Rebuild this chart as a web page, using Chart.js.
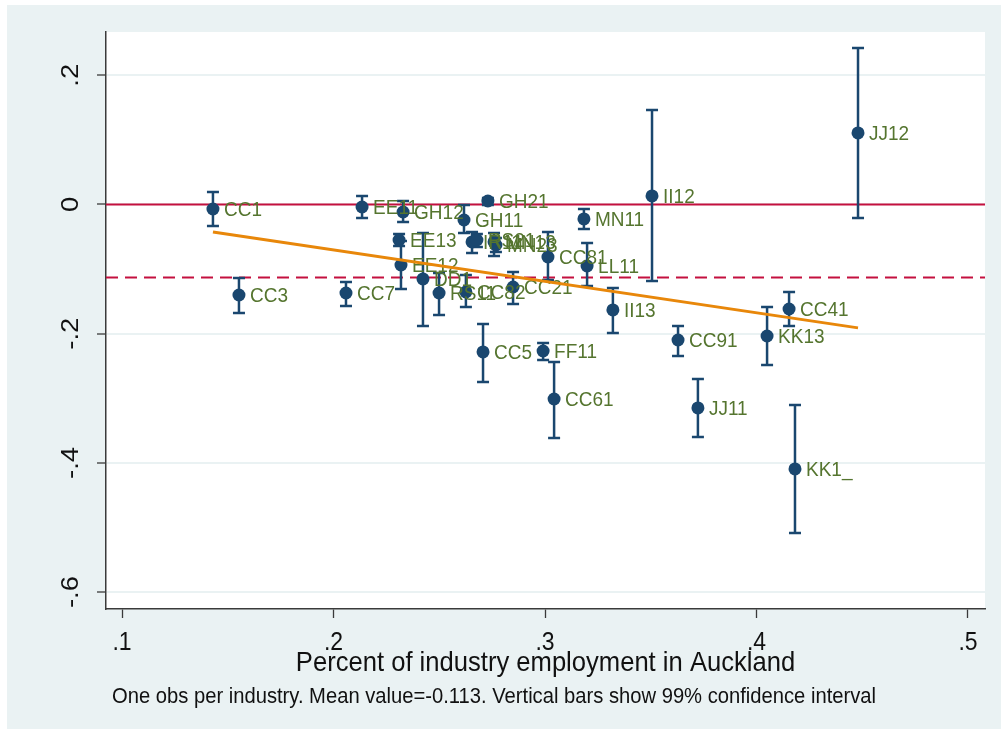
<!DOCTYPE html>
<html>
<head>
<meta charset="utf-8">
<script src="https://cdn.jsdelivr.net/npm/chart.js@4/dist/chart.umd.min.js"></script>
<style>
  html, body { margin: 0; padding: 0; background: #fff; }
  #wrap { width: 1001px; height: 734px; }
</style>
</head>
<body>
<div id="wrap"><canvas id="c" width="1001" height="734"></canvas></div>
<script>
// Industry codes, Auckland employment share, estimated effect and 99% CI
const industries = ['CC1','CC3','EE11','GH12','EE13','EE12','DD1','RS11','CC7','GH11','GH21','IR11','RS21','MN13','MN23','CC82','CC21','CC81','LL11','MN11','II13','II12','JJ12','CC41','KK13','CC91','CC5','FF11','CC61','JJ11','KK1_'];
const share = [0.1430,0.1553,0.2135,0.2329,0.2310,0.2319,0.2423,0.2499,0.2059,0.2617,0.2730,0.2655,0.2678,0.2759,0.2768,0.2626,0.2849,0.3014,0.3199,0.3184,0.3321,0.3506,0.4480,0.4154,0.4050,0.3629,0.2707,0.2991,0.3043,0.3723,0.4182];
const effect = [-0.0070,-0.1401,-0.0039,-0.0116,-0.0550,-0.0937,-0.1153,-0.1370,-0.1370,-0.0240,0.0054,-0.0580,-0.0550,-0.0580,-0.0627,-0.1354,-0.1277,-0.0813,-0.0952,-0.0224,-0.1633,0.0132,0.1107,-0.1618,-0.2036,-0.2098,-0.2283,-0.2268,-0.3011,-0.3150,-0.4094];
const ciUpper = [0.0193,-0.1138,0.0132,0.0054,-0.0457,-0.0565,-0.0441,-0.1060,-0.1200,-0.0008,0.0101,-0.0426,-0.0457,-0.0441,-0.0519,-0.1091,-0.1045,-0.0426,-0.0596,-0.0070,-0.1293,0.1463,0.2423,-0.1354,-0.1587,-0.1881,-0.1850,-0.2144,-0.2438,-0.2701,-0.3104];
const ciLower = [-0.0333,-0.1680,-0.0209,-0.0271,-0.0642,-0.1308,-0.1881,-0.1710,-0.1571,-0.0441,-0.0008,-0.0751,-0.0658,-0.0797,-0.0735,-0.1587,-0.1540,-0.1169,-0.1262,-0.0379,-0.1989,-0.1184,-0.0209,-0.1881,-0.2485,-0.2345,-0.2748,-0.2407,-0.3615,-0.3599,-0.5085];

// Reference values and linear fit endpoints
const meanValue = -0.113;
const fitX = [0.143, 0.448];
const fitY = [-0.0426, -0.191];

// Axis ticks and ranges
const xTicks = [0.1, 0.2, 0.3, 0.4, 0.5];
const yTicks = [-0.6, -0.4, -0.2, 0, 0.2];
const xRange = [0.09243, 0.50804];
const yRange = [-0.6262, 0.2670];

const xTitle = 'Percent of industry employment in Auckland';
const note = 'One obs per industry. Mean value=-0.113. Vertical bars show 99% confidence interval';

const FONT = '"Liberation Sans", Arial, Helvetica, sans-serif';
const NAVY = '#1a476f';
const LABEL_GREEN = '#55752f';
const RED = '#c4103f';
const ORANGE = '#e8870a';
const BG = '#eaf2f3';
const AXIS = '#3a3a3a';

const fmt = v => {
  const n = Number(v.toFixed(1));
  if (n === 0) return '0';
  return String(n).replace('0.', '.');
};

// Text drawn slightly tall and narrow, in the style of the graph's typeface
function tallText(ctx, text, x, y, size, stretch, angle) {
  ctx.save();
  ctx.translate(x, y);
  if (angle) ctx.rotate(angle);
  if (angle) ctx.scale(stretch, 1); else ctx.scale(1, stretch);
  ctx.font = size + 'px ' + FONT;
  ctx.fillText(text, 0, 0);
  ctx.restore();
}

const points = share.map((x, i) => ({ x, y: effect[i] }));

const decor = {
  id: 'decor',
  beforeDraw(chart) {
    const { ctx, chartArea: a } = chart;
    ctx.save();
    ctx.fillStyle = '#fff';
    ctx.fillRect(0, 0, chart.width, chart.height);
    ctx.fillStyle = BG;
    ctx.fillRect(7, 5, chart.width - 7, chart.height - 10);
    ctx.fillStyle = '#fff';
    ctx.fillRect(a.left, a.top, a.right - a.left, a.bottom - a.top);
    ctx.restore();
  },
  beforeDatasetDraw(chart, args) {
    if (args.index !== 1) return;
    const { ctx, chartArea: a, scales: { x, y } } = chart;
    ctx.save();
    ctx.beginPath();
    ctx.rect(a.left, a.top, a.right - a.left, a.bottom - a.top);
    ctx.clip();
    ctx.strokeStyle = NAVY;
    ctx.lineWidth = 2.5;
    const cap = 6;
    share.forEach((sx, i) => {
      const px = x.getPixelForValue(sx);
      const pt = y.getPixelForValue(ciUpper[i]);
      const pb = y.getPixelForValue(ciLower[i]);
      ctx.beginPath();
      ctx.moveTo(px, pt); ctx.lineTo(px, pb);
      ctx.moveTo(px - cap, pt); ctx.lineTo(px + cap, pt);
      ctx.moveTo(px - cap, pb); ctx.lineTo(px + cap, pb);
      ctx.stroke();
    });
    ctx.restore();
  },
  afterDatasetDraw(chart, args) {
    if (args.index !== 1) return;
    const { ctx, scales: { x, y } } = chart;
    ctx.save();
    ctx.fillStyle = LABEL_GREEN;
    ctx.textAlign = 'left';
    ctx.textBaseline = 'middle';
    industries.forEach((name, i) => {
      tallText(ctx, name, x.getPixelForValue(share[i]) + 11, y.getPixelForValue(effect[i]) + 1, 19, 1.1);
    });
    ctx.restore();
  },
  afterDraw(chart) {
    const { ctx, chartArea: a, scales: { x, y } } = chart;
    ctx.save();
    ctx.fillStyle = '#111';
    ctx.textAlign = 'center';
    ctx.textBaseline = 'alphabetic';
    xTicks.forEach(v => tallText(ctx, fmt(v), x.getPixelForValue(v), 650, 23, 1.15));
    yTicks.forEach(v => tallText(ctx, fmt(v), 78, y.getPixelForValue(v), 24.5, 1.12, -Math.PI / 2));
    tallText(ctx, xTitle, (a.left + a.right) / 2, 671, 25.6, 1.1);
    ctx.textAlign = 'left';
    tallText(ctx, note, 112, 703, 20.2, 1.08);
    ctx.restore();
  }
};

new Chart(document.getElementById('c'), {
  type: 'scatter',
  data: {
    datasets: [
      {
        label: 'Fitted values',
        data: fitX.map((fx, i) => ({ x: fx, y: fitY[i] })),
        showLine: true,
        borderColor: ORANGE,
        borderWidth: 3,
        pointRadius: 0,
        fill: false
      },
      {
        label: 'Effect',
        data: points,
        backgroundColor: NAVY,
        borderWidth: 0,
        pointRadius: 6.5,
        pointHoverRadius: 6.5
      },
      {
        label: 'Mean',
        data: [{ x: xRange[0], y: meanValue }, { x: xRange[1], y: meanValue }],
        showLine: true,
        borderColor: RED,
        borderWidth: 2,
        borderDash: [12, 7],
        pointRadius: 0
      },
      {
        label: 'Zero',
        data: [{ x: xRange[0], y: 0 }, { x: xRange[1], y: 0 }],
        showLine: true,
        borderColor: RED,
        borderWidth: 2,
        pointRadius: 0
      }
    ]
  },
  options: {
    responsive: false,
    animation: false,
    devicePixelRatio: 1,
    layout: { padding: { left: 7, top: 32, right: 16, bottom: 85 } },
    plugins: { legend: { display: false }, tooltip: { enabled: false } },
    scales: {
      x: {
        type: 'linear',
        min: xRange[0],
        max: xRange[1],
        afterBuildTicks: s => { s.ticks = xTicks.map(v => ({ value: v })); },
        afterFit: s => { s.height = 40; },
        ticks: { display: false },
        grid: { drawOnChartArea: false, drawTicks: true, tickLength: 9, tickColor: AXIS, tickWidth: 1.3 },
        border: { color: AXIS, width: 1.5 }
      },
      y: {
        type: 'linear',
        min: yRange[0],
        max: yRange[1],
        afterBuildTicks: s => { s.ticks = yTicks.map(v => ({ value: v })); },
        afterFit: s => { s.width = 99; },
        ticks: { display: false },
        grid: { color: BG, lineWidth: 2, drawTicks: true, tickLength: 9, tickColor: AXIS, tickWidth: 1.3 },
        border: { color: AXIS, width: 1.5 }
      }
    }
  },
  plugins: [decor]
});
</script>
</body>
</html>
